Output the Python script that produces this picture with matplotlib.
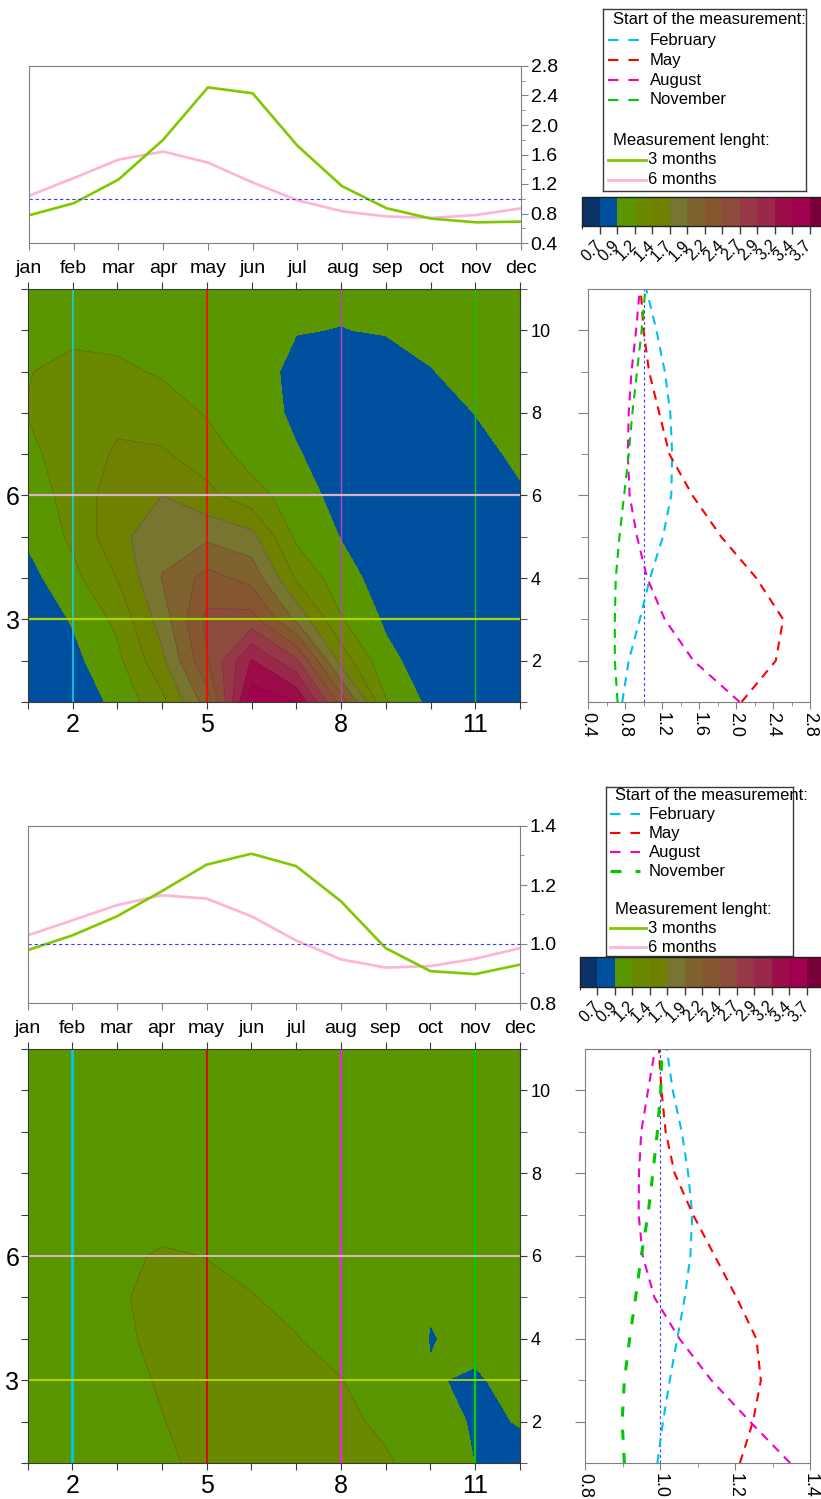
import numpy as np
import matplotlib
matplotlib.use("Agg")
import matplotlib.pyplot as plt
from matplotlib.colors import ListedColormap, BoundaryNorm
from matplotlib.cm import ScalarMappable
from matplotlib.ticker import MultipleLocator, FixedLocator

plt.rcParams["font.family"] = ["Liberation Sans", "DejaVu Sans"]

# ── data ──────────────────────────────────────────────────────────────────────
months = ["jan", "feb", "mar", "apr", "may", "jun",
          "jul", "aug", "sep", "oct", "nov", "dec"]
month_num = np.arange(1, 13)
lengths = np.arange(1, 12)

start_months = [2, 5, 8, 11]
start_names = ["February", "May", "August", "November"]

levels = [0.0, 0.7, 0.95, 1.2, 1.45, 1.7, 1.95, 2.2, 2.45,
          2.7, 2.95, 3.2, 3.45, 3.7, 5.0]
level_labels = ["0.7", "0.9", "1.2", "1.4", "1.7", "1.9", "2.2",
                "2.4", "2.7", "2.9", "3.2", "3.4", "3.7"]

# upper block: row means for 3 and 6 month windows
top_3m = [0.775, 0.94, 1.26, 1.80, 2.51, 2.43, 1.72, 1.17, 0.87, 0.73, 0.68, 0.69]
top_6m = [1.04, 1.28, 1.53, 1.64, 1.49, 1.22, 0.98, 0.83, 0.76, 0.74, 0.78, 0.87]
# upper block: profiles by start month (lengths 1..11)
top_feb = [0.77, 0.84, 0.96, 1.07, 1.21, 1.30, 1.31, 1.29, 1.23, 1.14, 1.03]
top_may = [2.06, 2.43, 2.51, 2.22, 1.84, 1.53, 1.28, 1.17, 1.06, 1.00, 0.97]
top_aug = [2.04, 1.54, 1.23, 1.04, 0.93, 0.85, 0.83, 0.84, 0.87, 0.92, 0.96]
top_nov = [0.72, 0.69, 0.69, 0.70, 0.74, 0.79, 0.84, 0.88, 0.93, 0.98, 1.02]
# upper block: contour grid, one row per length (1..11), columns jan..dec
top_grid = [
    [0.75, 0.78, 1.02, 1.38, 2.06, 3.62, 3.45, 2.35, 1.22, 0.88, 0.76, 0.74],
    [0.76, 0.88, 1.14, 1.64, 2.43, 3.22, 2.75, 1.60, 1.02, 0.82, 0.73, 0.73],
    [0.78, 0.97, 1.26, 1.82, 2.51, 2.55, 1.90, 1.22, 0.91, 0.77, 0.72, 0.74],
    [0.86, 1.13, 1.46, 1.96, 2.29, 2.12, 1.42, 1.05, 0.84, 0.74, 0.73, 0.77],
    [0.99, 1.25, 1.62, 1.88, 1.90, 1.78, 1.15, 0.94, 0.80, 0.74, 0.76, 0.83],
    [1.06, 1.30, 1.58, 1.70, 1.52, 1.30, 1.08, 0.85, 0.78, 0.75, 0.80, 0.92],
    [1.14, 1.33, 1.48, 1.48, 1.33, 1.10, 0.97, 0.82, 0.78, 0.78, 0.87, 1.00],
    [1.21, 1.32, 1.40, 1.33, 1.18, 1.08, 0.90, 0.83, 0.80, 0.84, 0.955, 1.06],
    [1.19, 1.27, 1.25, 1.17, 1.08, 1.05, 0.89, 0.86, 0.85, 0.94, 1.03, 1.10],
    [1.09, 1.14, 1.12, 1.07, 1.02, 0.98, 0.958, 0.945, 0.965, 1.02, 1.07, 1.12],
    [1.02, 1.05, 1.07, 1.01, 0.98, 0.99, 0.99, 0.99, 1.02, 1.05, 1.08, 1.12],
]

# lower block
bot_3m = [0.979, 1.029, 1.094, 1.179, 1.269, 1.306, 1.264, 1.145, 0.986, 0.908, 0.898, 0.93]
bot_6m = [1.029, 1.08, 1.132, 1.165, 1.154, 1.094, 1.012, 0.948, 0.92, 0.925, 0.95, 0.986]
bot_feb = [0.993, 1.008, 1.026, 1.046, 1.066, 1.081, 1.086, 1.075, 1.058, 1.034, 1.018]
bot_may = [1.213, 1.248, 1.269, 1.257, 1.204, 1.146, 1.088, 1.039, 1.015, 1.004, 0.997]
bot_aug = [1.347, 1.24, 1.137, 1.052, 0.985, 0.954, 0.943, 0.944, 0.95, 0.968, 0.987]
bot_nov = [0.905, 0.899, 0.905, 0.919, 0.935, 0.95, 0.968, 0.981, 0.993, 1.002, 1.005]
bot_grid = [
    [0.97, 0.99, 1.02, 1.14, 1.28, 1.36, 1.34, 1.33, 1.24, 1.05, 0.948, 0.92],
    [0.975, 1.01, 1.06, 1.19, 1.30, 1.36, 1.31, 1.27, 1.14, 1.03, 0.93, 0.955],
    [0.98, 1.03, 1.10, 1.23, 1.30, 1.33, 1.27, 1.21, 1.02, 0.957, 0.938, 0.986],
    [0.99, 1.05, 1.15, 1.26, 1.29, 1.29, 1.21, 1.09, 1.05, 0.945, 0.977, 1.00],
    [1.01, 1.07, 1.17, 1.27, 1.26, 1.21, 1.14, 1.00, 0.97, 0.959, 1.00, 1.01],
    [1.03, 1.08, 1.14, 1.23, 1.195, 1.14, 1.06, 0.96, 0.96, 0.97, 1.00, 1.01],
    [1.05, 1.09, 1.12, 1.10, 1.15, 1.09, 1.01, 0.96, 0.96, 0.98, 1.00, 1.00],
    [1.06, 1.08, 1.10, 1.08, 1.09, 1.05, 0.99, 0.97, 0.97, 0.99, 1.00, 1.00],
    [1.05, 1.06, 1.07, 1.07, 1.04, 1.02, 0.98, 0.97, 0.98, 1.00, 1.00, 1.00],
    [1.03, 1.03, 1.04, 1.03, 1.01, 1.00, 0.98, 0.98, 0.99, 1.00, 1.01, 1.00],
    [1.01, 1.02, 1.02, 1.02, 1.00, 1.00, 0.99, 0.99, 1.00, 1.00, 1.01, 1.00],
]

# ── styles ────────────────────────────────────────────────────────────────────
W, H = 821, 1499
GRAY = "#808080"
DARK = "#3a3a3a"
GREEN3 = "#80c800"
PINK6 = "#ffb3d6"
REF_BLUE = "#3a3aff"
BAND_COLORS = ["#0b3269", "#0050a0", "#5a9600", "#6a8800", "#708000",
               "#777530", "#80622e", "#86572f", "#8d4b3b", "#963848",
               "#99284a", "#9c0c48", "#a0004d", "#780038"]
PROFILE_COLORS = ["#00c0f0", "#ff0000", "#f000c8", "#00c800"]


def rect(l, t, r, b):
    return [l / W, 1 - b / H, (r - l) / W, (b - t) / H]


def line_panel(fig, box, v3, v6, ylim, ymajor, yminor):
    ax = fig.add_axes(rect(*box))
    ax.plot(month_num, v6, color=PINK6, lw=1.9)
    ax.plot(month_num, v3, color=GREEN3, lw=1.9)
    ax.axhline(1.0, color=REF_BLUE, lw=0.8, dashes=(3, 2.5))
    ax.set_xlim(1, 12)
    ax.set_ylim(*ylim)
    ax.set_xticks(month_num, months)
    ax.yaxis.tick_right()
    ax.yaxis.set_major_locator(MultipleLocator(ymajor))
    ax.yaxis.set_minor_locator(MultipleLocator(yminor))
    ax.tick_params(axis="x", direction="out", length=5, color=GRAY,
                   labelsize=14, pad=7)
    ax.tick_params(axis="y", which="major", direction="out", length=5,
                   color=GRAY, labelsize=14, pad=2)
    ax.tick_params(axis="y", which="minor", direction="out", length=3,
                   color=GRAY)
    for s in ax.spines.values():
        s.set_color(GRAY)
    return ax


def contour_panel(fig, box, grid, vcolors, vlw, hcolors, hlw):
    ax = fig.add_axes(rect(*box))
    z = np.array(grid)
    ax.contourf(month_num, lengths, z, levels=levels, colors=BAND_COLORS)
    ax.contour(month_num, lengths, z, levels=levels[3:-1], colors="#303030",
               linewidths=0.5, alpha=0.3)
    for m, c, lw in zip(start_months, vcolors, vlw):
        ax.axvline(m, color=c, lw=lw)
    ax.axhline(6, color=hcolors[0], lw=hlw)
    ax.axhline(3, color=hcolors[1], lw=hlw)
    ax.set_xlim(1, 12)
    ax.set_ylim(1, 11)
    ax.set_xticks(month_num, [str(m) if m in start_months else "" for m in month_num])
    ax.set_yticks(lengths, [str(n) if n in (3, 6) else "" for n in lengths])
    ax.tick_params(axis="x", top=True, direction="out", length=5, color=DARK,
                   labelsize=18, pad=3)
    ax.tick_params(axis="y", direction="out", length=5, color=DARK,
                   labelsize=18, pad=1)
    for s in ax.spines.values():
        s.set_color(DARK)
    right = ax.secondary_yaxis("right")
    right.set_yticks([2, 4, 6, 8, 10])
    right.yaxis.set_minor_locator(FixedLocator([1, 3, 5, 7, 9, 11]))
    right.tick_params(which="major", direction="out", length=5, color=DARK,
                      labelsize=13, pad=3)
    right.tick_params(which="minor", direction="out", length=5, color=DARK)
    right.spines["right"].set_color(DARK)
    return ax


def profile_panel(fig, box, series, xlim, xmajor, xminor, widths, dash_list):
    ax = fig.add_axes(rect(*box))
    ax.axvline(1.0, color=REF_BLUE, lw=0.8, dashes=(2.5, 2.5))
    for vals, c, lw, dsh in zip(series, PROFILE_COLORS, widths, dash_list):
        ax.plot(vals, lengths, color=c, lw=lw, dashes=dsh)
    ax.set_xlim(*xlim)
    ax.set_ylim(1, 11)
    ax.xaxis.set_major_locator(MultipleLocator(xmajor))
    ax.xaxis.set_minor_locator(MultipleLocator(xminor))
    ax.set_yticks([2, 4, 6, 8, 10], [])
    ax.yaxis.set_minor_locator(FixedLocator([3, 5, 7, 9]))
    ax.tick_params(axis="x", which="major", direction="out", length=5,
                   color=GRAY, labelsize=13, pad=2, labelrotation=-90)
    ax.tick_params(axis="x", which="minor", direction="out", length=3, color=GRAY)
    ax.tick_params(axis="y", which="major", direction="out", length=7, color=GRAY)
    ax.tick_params(axis="y", which="minor", direction="out", length=5, color=GRAY)
    for s in ax.spines.values():
        s.set_color(GRAY)
    return ax


def legend_panel(fig, box, first, step, xs, nov_style):
    l, t, r, b = box
    ax = fig.add_axes(rect(*box))
    ax.set_xlim(0, r - l)
    ax.set_ylim(b - t, 0)
    ax.set_xticks([])
    ax.set_yticks([])
    for s in ax.spines.values():
        s.set_color(DARK)
        s.set_linewidth(1.0)
    title_x, s0, s1, text_x, solid_end = xs
    rows = first + step * np.arange(9)
    fs = 12
    ax.text(title_x, rows[0], "Start of the measurement:", va="center", fontsize=fs)
    for i, (name, c) in enumerate(zip(start_names, PROFILE_COLORS)):
        lw, dsh = (1.5, (5.0, 4.8)) if i < 3 else nov_style
        ax.plot([s0, s1], [rows[i + 1]] * 2, color=c, lw=lw, dashes=dsh)
        ax.text(text_x, rows[i + 1], name, va="center", fontsize=fs)
    ax.text(title_x, rows[6], "Measurement lenght:", va="center", fontsize=fs)
    ax.plot([s0, solid_end], [rows[7]] * 2, color=GREEN3, lw=2)
    ax.text(solid_end + 2, rows[7], "3 months", va="center", fontsize=fs)
    ax.plot([s0, solid_end], [rows[8]] * 2, color=PINK6, lw=2)
    ax.text(solid_end + 2, rows[8], "6 months", va="center", fontsize=fs)
    return ax


def colorbar_panel(fig, box):
    cax = fig.add_axes(rect(*box))
    sm = ScalarMappable(norm=BoundaryNorm(levels, len(BAND_COLORS)),
                        cmap=ListedColormap(BAND_COLORS))
    cb = fig.colorbar(sm, cax=cax, orientation="horizontal",
                      spacing="uniform", ticks=levels[1:-1])
    cb.set_ticklabels(level_labels)
    cb.outline.set_edgecolor("#202020")
    cb.outline.set_linewidth(1.0)
    cax.tick_params(axis="x", direction="out", length=6, width=1, color=DARK,
                    labelsize=11.5, pad=6)
    for lab in cax.get_xticklabels():
        lab.set_rotation(45)
        lab.set_ha("right")
        lab.set_va("center")
        lab.set_rotation_mode("anchor")
    return cax


fig = plt.figure(figsize=(W / 100, H / 100), dpi=100)
fig.patch.set_facecolor("white")

# ── upper block ──
line_panel(fig, (29, 66, 521, 243), top_3m, top_6m, (0.4, 2.8), 0.4, 0.2)
contour_panel(fig, (28, 289, 520, 702), top_grid,
              ["#1ec8e6", "#ff0000", "#c040c0", "#18c018"], [1.2, 1.2, 1.0, 1.0],
              ["#d8b4c8", "#a8d400"], 1.6)
profile_panel(fig, (588, 289, 810, 702), [top_feb, top_may, top_aug, top_nov],
              (0.4, 2.8), 0.4, 0.2, [1.5, 1.5, 1.5, 1.5],
              [(4.3, 3.4)] * 4)
legend_panel(fig, (603, 9, 806, 191), 11, 20, (10, 4.7, 36, 47, 43),
             (1.5, (5.0, 4.8)))
colorbar_panel(fig, (582, 197, 827, 226))

# ── lower block ──
line_panel(fig, (27.5, 826, 520, 1003), bot_3m, bot_6m, (0.8, 1.4), 0.2, 0.1)
contour_panel(fig, (27.5, 1049, 520, 1463), bot_grid,
              ["#00c8f0", "#e00000", "#f020f0", "#00cc00"], [2.0, 1.3, 1.6, 1.6],
              ["#f0c0d4", "#c0e000"], 1.2)
profile_panel(fig, (585, 1049, 810, 1463), [bot_feb, bot_may, bot_aug, bot_nov],
              (0.8, 1.4), 0.2, 0.1, [1.5, 1.5, 1.5, 2.2],
              [(4.3, 3.4), (4.3, 3.4), (4.3, 3.4), (3.3, 4.3)])
legend_panel(fig, (606, 787, 793, 956), 8, 19, (8.6, 3.6, 34, 43, 40),
             (2.2, (3.6, 4.6)))
colorbar_panel(fig, (580, 957, 824, 987))

fig.savefig("out.png", dpi=100, facecolor="white")
